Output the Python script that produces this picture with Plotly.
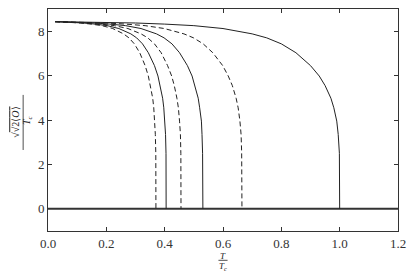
import plotly.graph_objects as go

# Order-parameter curves (x = T/Tc, y value)
y_vals = [8.43, 8.40, 8.37, 8.32, 8.25, 8.12, 7.88, 7.70, 7.43, 7.03, 6.45,
          5.98, 5.55, 4.98, 4.55, 3.95, 3.35, 2.5, 0.0]

x_037 = [0.024, 0.074, 0.111, 0.148, 0.185, 0.222, 0.259, 0.2775, 0.296, 0.3145,
         0.333, 0.344, 0.3515, 0.359, 0.3626, 0.366, 0.368, 0.3696, 0.370]
x_0405 = [0.024, 0.081, 0.122, 0.162, 0.203, 0.243, 0.284, 0.304, 0.324, 0.344,
          0.365, 0.377, 0.385, 0.393, 0.397, 0.401, 0.403, 0.4046, 0.405]
x_0456 = [0.024, 0.091, 0.137, 0.182, 0.228, 0.274, 0.319, 0.342, 0.365, 0.388,
          0.410, 0.424, 0.433, 0.442, 0.447, 0.451, 0.454, 0.4555, 0.456]
x_0531 = [0.024, 0.106, 0.159, 0.212, 0.266, 0.319, 0.372, 0.398, 0.425, 0.451,
          0.478, 0.494, 0.504, 0.515, 0.520, 0.526, 0.528, 0.530, 0.531]
x_0665 = [0.024, 0.133, 0.200, 0.266, 0.333, 0.399, 0.466, 0.499, 0.532, 0.565,
          0.599, 0.618, 0.632, 0.645, 0.652, 0.658, 0.662, 0.664, 0.665]
x_1 = [0.024, 0.2, 0.3, 0.4, 0.5, 0.6, 0.7, 0.75, 0.8, 0.85, 0.9, 0.93, 0.95,
       0.97, 0.98, 0.99, 0.995, 0.999, 1.0]

curves = [
    (x_037, "dash"),
    (x_0405, "solid"),
    (x_0456, "dash"),
    (x_0531, "solid"),
    (x_0665, "dash"),
    (x_1, "solid"),
]

zero_x = [0.0, 1.2]
zero_y = [0.0, 0.0]

x_ticks = [0.0, 0.2, 0.4, 0.6, 0.8, 1.0, 1.2]
y_ticks = [0, 2, 4, 6, 8]

FONT = "Liberation Serif"
LINE = "#222222"

fig = go.Figure()
fig.add_trace(go.Scatter(x=zero_x, y=zero_y, mode="lines",
                         line=dict(color="#333333", width=2), showlegend=False))
for xs, dash in curves:
    fig.add_trace(go.Scatter(
        x=xs, y=y_vals, mode="lines", showlegend=False,
        line=dict(color=LINE, width=1, dash="5px,3px" if dash == "dash" else "solid"),
    ))

axis_common = dict(
    showgrid=False, zeroline=False, showline=True, linecolor="#333333", linewidth=1,
    mirror="allticks", ticks="inside", ticklen=4, tickcolor="#333333",
    tickfont=dict(family=FONT, size=13, color="#333333"),
)
fig.update_xaxes(range=[0, 1.2], tickvals=x_ticks, tickformat=".1f", **axis_common)
fig.update_yaxes(range=[-1, 9], tickvals=y_ticks, **axis_common)

TXT = dict(family=FONT, size=10, color="#222")
SMALL = dict(family=FONT, size=9, color="#222")

# x-axis title as a fraction T / T_c
fig.add_annotation(xref="paper", yref="paper", x=0.5, y=-0.112, yanchor="middle",
                   text="<i>T</i>", showarrow=False, font=SMALL, borderpad=0)
fig.add_annotation(xref="paper", yref="paper", x=0.5, y=-0.162, yanchor="middle",
                   text="<i>T<sub>c</sub></i>", showarrow=False, font=SMALL, borderpad=0)
fig.add_shape(type="line", xref="paper", yref="paper", x0=0.487, x1=0.513,
              y0=-0.132, y1=-0.132, line=dict(color="#222", width=0.8))

# y-axis title as a rotated fraction
fig.add_annotation(xref="paper", yref="paper", x=-0.093, y=0.49, xanchor="center",
                   yanchor="middle",
                   text="√<span style='text-decoration:overline'>√2⟨<i>O</i>⟩</span>",
                   textangle=-90, showarrow=False, font=TXT)
fig.add_annotation(xref="paper", yref="paper", x=-0.060, y=0.50, xanchor="center",
                   yanchor="middle",
                   text="<i>T<sub>c</sub></i>", textangle=-90, showarrow=False, font=TXT)
fig.add_shape(type="line", xref="paper", yref="paper", x0=-0.071, x1=-0.071,
              y0=0.365, y1=0.613, line=dict(color="#222", width=0.8))

fig.update_layout(
    width=407, height=268,
    margin=dict(l=40, r=17, t=1, b=45),
    paper_bgcolor="white", plot_bgcolor="white",
    font=dict(family=FONT, color="#222"),
)

fig.write_html("out.html")
